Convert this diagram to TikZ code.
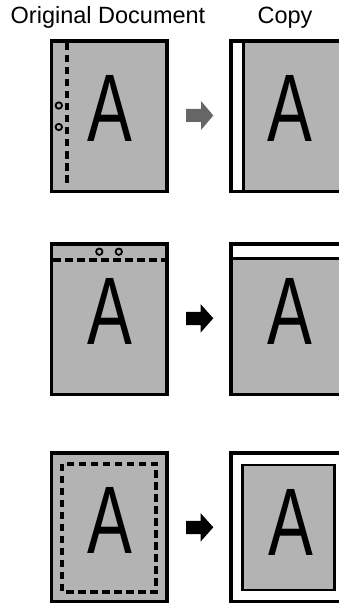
\documentclass[tikz,border=0pt]{standalone}
\usepackage{fontspec}
\setmainfont{Liberation Sans}
\usepackage{graphicx}
\definecolor{docgray}{RGB}{179,179,179}
\definecolor{arrowgray}{RGB}{102,102,102}
\begin{document}
\begin{tikzpicture}[x=1pt,y=-1pt,
  paper/.style={fill=docgray, draw=black, line width=3.5pt},
  blank/.style={fill=white, draw=black, line width=3.5pt},
  foldline/.style={line width=4pt, dash pattern=on 7.5pt off 4.5pt},
  hole/.style={draw=black, line width=1.8pt},
  edgeline/.style={line width=2.5pt},
  bigA/.style={font=\fontsize{96}{96}\selectfont, anchor=base, inner sep=0pt},
  head/.style={font=\fontsize{23.5}{28}\selectfont, anchor=base, inner sep=0pt},
  arrowshape/.style={fill=black}
]
\path[use as bounding box, clip] (0,0) rectangle (339,604);

% headers
\node[head] (horig) at (108,23.5) {Original Document};
\node[head] (hcopy) at (285,23.5) {Copy};

% ---------- row 1 : left binding ----------
\draw[paper] (51.25,41.25) rectangle (166.75,191.25);
\draw[foldline] (66.7,43) -- (66.7,185);
\draw[hole] (58.8,105.5) circle (3.2pt);
\draw[hole] (58.8,127) circle (3.2pt);
\node[bigA] (a1l) at (109.5,142) {\scalebox{0.7}[1]{A}};

\fill[arrowgray] (186,109) -- (201,109) -- (201,101) -- (213.3,115.5) -- (201,130) -- (201,122) -- (186,122) -- cycle;

\fill[white] (231,41.25) rectangle (350,191.25);
\fill[docgray] (243.3,41.25) rectangle (350,191.25);
\draw[edgeline] (243.3,42) -- (243.3,190.5);
\draw[line width=3.5pt] (231,41.25) rectangle (350,191.25);
\node[bigA] (a1r) at (289.5,142) {\scalebox{0.7}[1]{A}};

% ---------- row 2 : top binding ----------
\draw[paper] (51.25,244) rectangle (166.75,394.5);
\draw[foldline] (53,259.5) -- (165,259.5);
\draw[hole] (99.3,251.7) circle (3.2pt);
\draw[hole] (118.8,251.7) circle (3.2pt);
\node[bigA] (a2l) at (109.5,344) {\scalebox{0.7}[1]{A}};

\fill[black] (186,311.8) -- (200.5,311.8) -- (200.5,304) -- (213.3,318.3) -- (200.5,332.7) -- (200.5,325) -- (186,325) -- cycle;

\fill[white] (231,244) rectangle (350,394.5);
\fill[docgray] (231,258.7) rectangle (350,394.5);
\draw[edgeline] (232,258.7) -- (350,258.7);
\draw[line width=3.5pt] (231,244) rectangle (350,394.5);
\node[bigA] (a2r) at (289.5,344) {\scalebox{0.7}[1]{A}};

% ---------- row 3 : frame ----------
\draw[paper] (51.25,453) rectangle (166.75,601.3);
\draw[foldline] (62,463.5) rectangle (156,591.5);
\node[bigA] (a3l) at (109.5,553) {\scalebox{0.7}[1]{A}};

\fill[black] (186,520.8) -- (200.5,520.8) -- (200.5,513) -- (213.3,527.3) -- (200.5,541.7) -- (200.5,534) -- (186,534) -- cycle;

\draw[blank] (231,453) rectangle (350,601.3);
\draw[paper, line width=2.5pt] (242.3,465) rectangle (334.5,590);
\node[bigA] (a3r) at (290.5,555) {\scalebox{0.7}[1]{A}};
\end{tikzpicture}
\end{document}
